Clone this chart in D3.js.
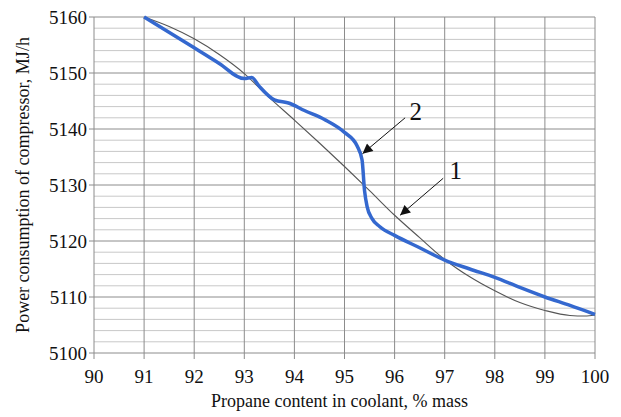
<!DOCTYPE html>
<html>
<head>
<meta charset="utf-8">
<script src="https://cdn.jsdelivr.net/npm/d3@7"></script>
<style>
  body { margin: 0; background: #fff; }
</style>
</head>
<body>
<script>
// data
const xTicks = [90, 91, 92, 93, 94, 95, 96, 97, 98, 99, 100]
const yTicks = [5100, 5110, 5120, 5130, 5140, 5150, 5160]

// curve 1 (thin line)
const c1x = [91, 91.5, 92, 92.5, 93, 93.5, 94, 94.5, 95, 95.5, 96, 96.5, 97, 97.5, 98, 98.5, 99, 99.5, 99.8, 100]
const c1y = [5160, 5158.3, 5156.1, 5153.3, 5149.9, 5145.6, 5141.6, 5137.5, 5133.3, 5129, 5124.6, 5120.6, 5116.7, 5113.6, 5111.1, 5109, 5107.6, 5106.7, 5106.6, 5106.8]

// curve 2 (blue)
const c2x = [91, 92, 92.5, 93, 93.15, 93.3, 93.6, 93.9, 94.2, 94.6, 95, 95.25, 95.35, 95.4, 95.45, 95.55, 95.7, 96, 96.5, 97, 97.5, 98, 98.5, 99, 99.5, 100]
const c2y = [5160, 5154.5, 5151.7, 5149, 5149.2, 5147.6, 5145.2, 5144.6, 5143.3, 5141.7, 5139.4, 5137, 5134.5, 5129, 5126.2, 5124, 5122.6, 5121, 5118.8, 5116.6, 5115, 5113.5, 5111.7, 5110, 5108.5, 5106.9]

// annotations: [label, textX, textY, tailX, tailY, tipX, tipY]
const notes = [
  ["2", 96.42, 5143.1, 96.21, 5142.0, 95.36, 5135.6],
  ["1", 97.22, 5132.6, 96.97, 5131.2, 96.11, 5124.6]
]

const W = 621, H = 417
const m = { left: 94, right: 26, top: 17, bottom: 64 }
const FONT = "'Liberation Serif', 'Times New Roman', Tinos, 'DejaVu Serif', serif"

const svg = d3.select("body").append("svg").attr("width", W).attr("height", H)
  .attr("font-family", FONT).style("font-family", FONT)

const x = d3.scaleLinear().domain([90, 100]).range([m.left, W - m.right])
const y = d3.scaleLinear().domain([5100, 5160]).range([H - m.bottom, m.top])

// minor horizontal grid every 2
const minor = d3.range(5100, 5161, 2).filter(v => v % 10 !== 0)
svg.append("g").selectAll("line").data(minor).enter().append("line")
  .attr("x1", x(90)).attr("x2", x(100))
  .attr("y1", d => y(d)).attr("y2", d => y(d))
  .attr("stroke", "#c8c8c8").attr("stroke-width", 1)

svg.append("g").selectAll("line").data(yTicks).enter().append("line")
  .attr("x1", x(90) - 5).attr("x2", x(100))
  .attr("y1", d => y(d)).attr("y2", d => y(d))
  .attr("stroke", "#8c8c8c").attr("stroke-width", 1)

svg.append("g").selectAll("line").data(xTicks).enter().append("line")
  .attr("x1", d => x(d)).attr("x2", d => x(d))
  .attr("y1", y(5160)).attr("y2", y(5100) + 6)
  .attr("stroke", "#8c8c8c").attr("stroke-width", 1)

// tick labels
svg.append("g").selectAll("text").data(yTicks).enter().append("text")
  .attr("x", x(90) - 7).attr("y", d => y(d)).attr("dy", "0.35em")
  .attr("text-anchor", "end").attr("font-size", 19).attr("fill", "#111")
  .text(d => d)

svg.append("g").selectAll("text").data(xTicks).enter().append("text")
  .attr("x", d => x(d)).attr("y", y(5100) + 30)
  .attr("text-anchor", "middle").attr("font-size", 19).attr("fill", "#111")
  .text(d => d)

// axis titles
svg.append("text").attr("x", (x(90) + x(100)) / 2 - 5).attr("y", 407)
  .attr("text-anchor", "middle").attr("font-size", 18).attr("fill", "#111")
  .text("Propane content in coolant, % mass")

svg.append("text")
  .attr("transform", `translate(29,${(y(5100) + y(5160)) / 2}) rotate(-90)`)
  .attr("text-anchor", "middle").attr("font-size", 18).attr("fill", "#111")
  .text("Power consumption of compressor, MJ/h")

// curves
const line = d3.line().x(d => x(d[0])).y(d => y(d[1])).curve(d3.curveMonotoneX)

svg.append("path").datum(c1x.map((v, i) => [v, c1y[i]]))
  .attr("d", line).attr("fill", "none")
  .attr("stroke", "#555").attr("stroke-width", 1.1)

svg.append("path").datum(c2x.map((v, i) => [v, c2y[i]]))
  .attr("d", line).attr("fill", "none")
  .attr("stroke", "#3468cf").attr("stroke-width", 3.5).attr("stroke-linejoin", "round")

// arrows
svg.append("defs").append("marker")
  .attr("id", "arr").attr("viewBox", "0 0 10 10").attr("refX", 10).attr("refY", 5)
  .attr("markerWidth", 14).attr("markerHeight", 10).attr("markerUnits", "userSpaceOnUse")
  .attr("orient", "auto")
  .append("path").attr("d", "M0,0 L10,5 L0,10 Z").attr("fill", "#111")

notes.forEach(n => {
  svg.append("line")
    .attr("x1", x(n[3])).attr("y1", y(n[4])).attr("x2", x(n[5])).attr("y2", y(n[6]))
    .attr("stroke", "#111").attr("stroke-width", 1).attr("marker-end", "url(#arr)")
  svg.append("text").attr("x", x(n[1])).attr("y", y(n[2])).attr("dy", "0.35em")
    .attr("text-anchor", "middle").attr("font-size", 25).attr("fill", "#111")
    .text(n[0])
})
</script>
</body>
</html>
